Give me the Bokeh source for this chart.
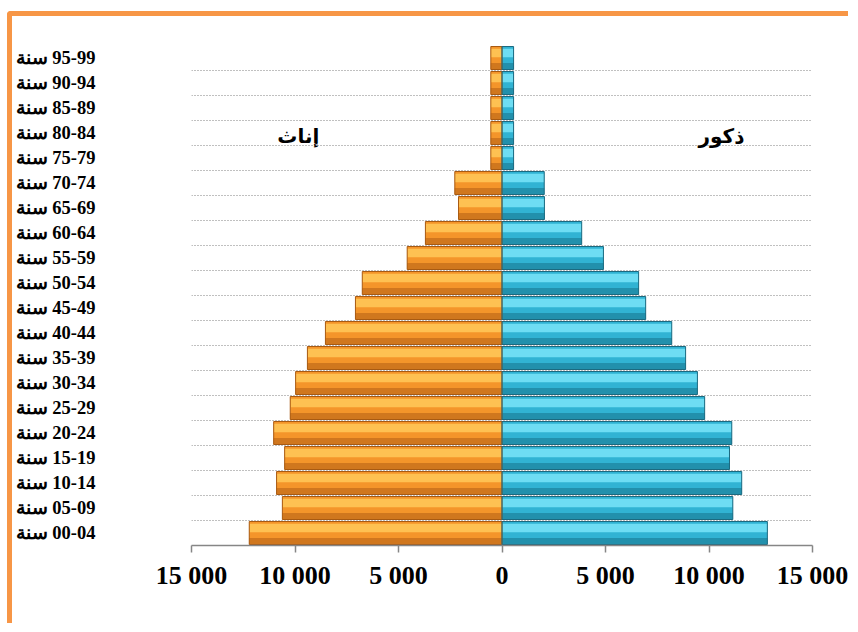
from bokeh.plotting import figure
from bokeh.models import Range1d, FixedTicker, ColumnDataSource
from bokeh.transform import dodge
from bokeh.layouts import column
from bokeh.core.properties import value
from bokeh.embed import file_html
from bokeh.resources import INLINE

# ---- data (bottom to top) ----
age_groups = ["00-04", "05-09", "10-14", "15-19", "20-24", "25-29", "30-34",
              "35-39", "40-44", "45-49", "50-54", "55-59", "60-64", "65-69",
              "70-74", "75-79", "80-84", "85-89", "90-94", "95-99"]
females = [12210, 10610, 10890, 10500, 11030, 10230, 9970, 9400, 8530, 7080,
           6750, 4580, 3700, 2100, 2280, 540, 540, 540, 540, 540]
males = [12820, 11150, 11580, 10990, 11100, 9790, 9440, 8870, 8200, 6940,
         6600, 4900, 3850, 2050, 2040, 560, 560, 560, 560, 560]
x_ticks = [-15000, -10000, -5000, 0, 5000, 10000, 15000]
x_tick_labels = ["15 000", "10 000", "5 000", "0", "5 000", "10 000", "15 000"]
label_female = "إناث"
label_male = "ذكور"

idx = list(range(len(age_groups)))
src = ColumnDataSource(dict(
    y=idx,
    f_left=[-v for v in females],
    zero=[0] * len(idx),
    m_right=males,
))

p = figure(
    output_backend="svg", toolbar_location=None,
    x_range=Range1d(-15000, 15000), y_range=Range1d(-0.5, len(idx) - 0.5),
    frame_width=621, frame_height=500,
    min_border_left=178, min_border_right=36, min_border_top=29, min_border_bottom=78,
    background_fill_color="white", border_fill_color="white",
)
p.outline_line_color = None
p.xgrid.grid_line_color = None
p.ygrid.ticker = FixedTicker(ticks=[i + 0.5 for i in idx])
p.ygrid.grid_line_color = "#808080"
p.ygrid.grid_line_dash = "1 2"
p.ygrid.grid_line_width = 1

H = 0.92
# base bars
p.hbar(y="y", left="f_left", right="zero", height=H, source=src,
       fill_color="#F4952A", line_color=None)
p.hbar(y="y", left="zero", right="m_right", height=H, source=src,
       fill_color="#31B3D3", line_color=None)
# highlight bands (top)
p.hbar(y=dodge("y", 0.2, range=p.y_range), left="f_left", right="zero", height=0.34,
       source=src, fill_color="#FEC152", line_color=None)
p.hbar(y=dodge("y", 0.2, range=p.y_range), left="zero", right="m_right", height=0.34,
       source=src, fill_color="#6EDDF3", line_color=None)
# darker bands (bottom)
p.hbar(y=dodge("y", -0.33, range=p.y_range), left="f_left", right="zero", height=0.26,
       source=src, fill_color="#D0771E", line_color=None)
p.hbar(y=dodge("y", -0.33, range=p.y_range), left="zero", right="m_right", height=0.26,
       source=src, fill_color="#2290AC", line_color=None)
# outlines
p.hbar(y="y", left="f_left", right="zero", height=H, source=src,
       fill_color=None, line_color="#A85A12", line_width=1)
p.hbar(y="y", left="zero", right="m_right", height=H, source=src,
       fill_color=None, line_color="#1B6A80", line_width=1)

# labels inside chart
p.text(x=[-9840, 10600], y=[15.9, 15.9], text=[label_female, label_male],
       text_font=value("DejaVu Sans"), text_font_style="bold", text_font_size="20px",
       text_align="center", text_baseline="middle", text_color="black")

# x axis
p.xaxis.ticker = FixedTicker(ticks=x_ticks)
p.xaxis.major_label_overrides = {t: l for t, l in zip(x_ticks, x_tick_labels)}
p.xaxis.major_label_text_font = "Liberation Serif"
p.xaxis.major_label_text_font_style = "bold"
p.xaxis.major_label_text_font_size = "26px"
p.xaxis.major_label_text_color = "black"
p.xaxis.major_label_standoff = 8
p.xaxis.axis_line_color = "#868686"
p.xaxis.axis_line_width = 1.5
p.xaxis.major_tick_line_color = "#868686"
p.xaxis.major_tick_line_width = 1.5
p.xaxis.major_tick_in = 0
p.xaxis.major_tick_out = 7
p.xaxis.minor_tick_line_color = None

# y axis
p.yaxis.ticker = FixedTicker(ticks=idx)
p.yaxis.major_label_overrides = {i: "سنة\u200e " + a for i, a in zip(idx, age_groups)}
p.yaxis.major_label_text_font = "Liberation Serif"
p.yaxis.major_label_text_font_style = "bold"
p.yaxis.major_label_text_font_size = "18.5px"
p.yaxis.major_label_text_color = "black"
p.yaxis.major_label_standoff = 90
p.yaxis.axis_line_color = None
p.yaxis.major_tick_line_color = None
p.yaxis.minor_tick_line_color = None

layout = column(p, styles={
    "border-left": "5px solid #F79646",
    "border-top": "5px solid #F79646",
    "border-top-left-radius": "4px",
    "margin-top": "11px",
    "margin-left": "7px",
})

open("out.html", "w").write(file_html(layout, INLINE))
